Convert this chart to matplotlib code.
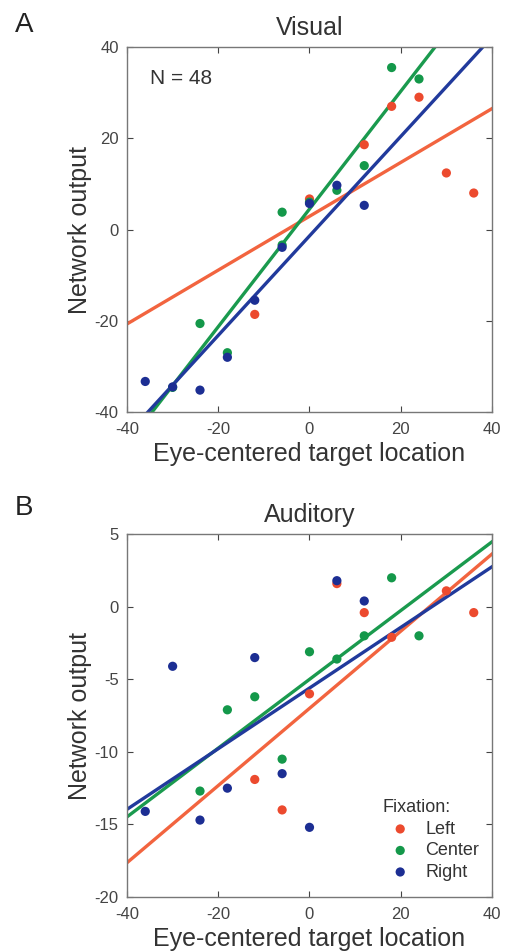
import matplotlib
matplotlib.use("Agg")
import matplotlib.pyplot as plt
import numpy as np

plt.rcParams['font.family'] = ['Liberation Sans', 'DejaVu Sans']
plt.rcParams['axes.unicode_minus'] = False

# Panel A (visual) data
vis_left_x = [-12, 0, 12, 18, 24, 30, 36]
vis_left_y = [-18.6, 6.7, 18.6, 27, 29, 12.4, 8]
vis_center_x = [-30, -24, -18, -6, -6, 0, 6, 12, 18, 24]
vis_center_y = [-34.6, -20.6, -27, 3.8, -3.4, 6, 8.6, 14, 35.5, 33]
vis_right_x = [-36, -30, -24, -18, -12, -6, 0, 6, 12]
vis_right_y = [-33.3, -34.5, -35.2, -28, -15.5, -3.9, 5.7, 9.7, 5.3]
vis_slope = [0.59, 1.29, 1.09]
vis_icept = [2.9, 4.5, -1.4]

# Panel B (auditory) data
aud_left_x = [-12, -6, 0, 6, 12, 18, 30, 36]
aud_left_y = [-11.9, -14, -6, 1.6, -0.4, -2.1, 1.1, -0.4]
aud_center_x = [-24, -18, -12, -6, 0, 6, 12, 18, 24]
aud_center_y = [-12.7, -7.1, -6.2, -10.5, -3.1, -3.6, -2, 2, -2]
aud_right_x = [-36, -30, -24, -18, -12, -6, 0, 6, 12]
aud_right_y = [-14.1, -4.1, -14.7, -12.5, -3.5, -11.5, -15.2, 1.8, 0.4]
aud_slope = [0.266, 0.237, 0.209]
aud_icept = [-7.0, -5.0, -5.6]

labels = ['Left', 'Center', 'Right']
line_colors = ['#f2643f', '#1a9a4e', '#213a9c']
dot_colors = ['#ec4a2e', '#14984a', '#1c2e93']

fig = plt.figure(figsize=(5.08, 9.52), dpi=100)
axA = fig.add_axes([0.25, 0.5672, 0.7185, 0.3834])
axB = fig.add_axes([0.25, 0.0578, 0.7185, 0.381])


def draw(ax, xs, ys, slopes, icepts, ylim, yticks, title):
    xx = np.array([-40, 40])
    for k in range(3):
        ax.plot(xx, slopes[k] * xx + icepts[k], color=line_colors[k], lw=2.4,
                zorder=2)
    for k in range(3):
        ax.scatter(xs[k], ys[k], s=44, color=dot_colors[k], edgecolors='none',
                   zorder=3, label=labels[k])
    ax.set_xlim(-40, 40)
    ax.set_ylim(*ylim)
    ax.set_xticks([-40, -20, 0, 20, 40])
    ax.set_yticks(yticks)
    ax.tick_params(direction='in', length=4, top=True, right=True,
                   labelsize=12, colors='#444444')
    ax.tick_params(axis='x', pad=7)
    ax.tick_params(axis='y', pad=6)
    for s in ax.spines.values():
        s.set_color('#777777')
        s.set_linewidth(1.0)
    ax.set_title(title, fontsize=18, color='#333333', pad=9)
    ax.set_xlabel('Eye-centered target location', fontsize=18,
                  color='#333333', labelpad=4)
    ax.set_ylabel('Network output', fontsize=18, color='#333333',
                  labelpad=2)


draw(axA, [vis_left_x, vis_center_x, vis_right_x],
     [vis_left_y, vis_center_y, vis_right_y], vis_slope, vis_icept,
     (-40, 40), [-40, -20, 0, 20, 40], 'Visual')
axA.text(-35, 33, 'N = 48', fontsize=15, color='#333333', va='center')

draw(axB, [aud_left_x, aud_center_x, aud_right_x],
     [aud_left_y, aud_center_y, aud_right_y], aud_slope, aud_icept,
     (-20, 5), [-20, -15, -10, -5, 0, 5], 'Auditory')
leg = axB.legend(title='Fixation:', loc='lower right', frameon=False,
                 fontsize=13, title_fontsize=13, handletextpad=0.4,
                 borderaxespad=0.3, labelspacing=0.25, markerscale=1.0,
                 bbox_to_anchor=(1.0, 0.01))
leg._legend_box.align = 'left'
for t in leg.get_texts():
    t.set_color('#333333')
leg.get_title().set_color('#333333')

fig.text(0.03, 0.9737, 'A', fontsize=20, color='#222222', va='center')
fig.text(0.03, 0.4664, 'B', fontsize=20, color='#222222', va='center')

fig.savefig('out.png', dpi=100)
